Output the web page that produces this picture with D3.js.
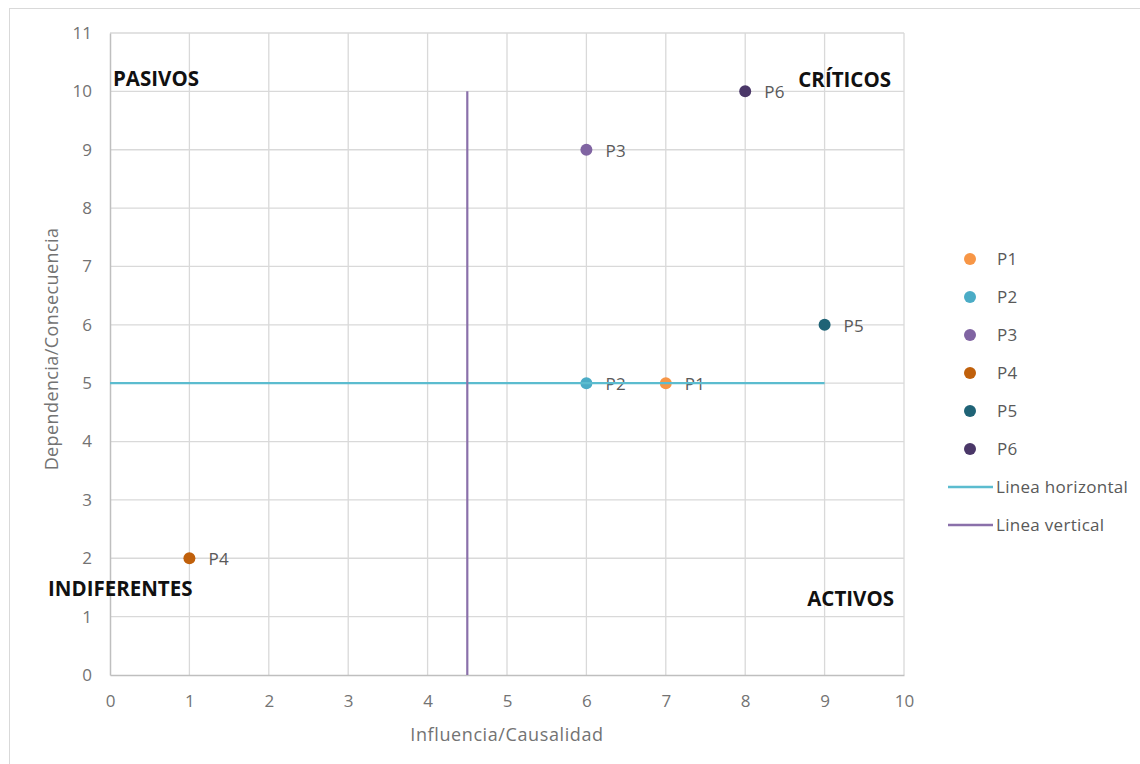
<!DOCTYPE html>
<html><head><meta charset="utf-8">
<script src="https://cdn.jsdelivr.net/npm/d3@7"></script>
<style>body{margin:0;background:#fff;} svg{display:block;font-family:"Open Sans",sans-serif;}</style>
</head><body>
<svg id="c" width="1140" height="764"></svg>
<script>
const names = ["P1","P2","P3","P4","P5","P6"];
const xValues = [7,6,6,1,9,8];
const yValues = [5,5,9,2,6,10];
const colors = ["#f79646","#4bacc6","#8064a2","#c0600b","#1f6376","#4a3768"];
const xTicks = [0,1,2,3,4,5,6,7,8,9,10];
const yTicks = [0,1,2,3,4,5,6,7,8,9,10,11];
const hLineX = [0,9], hLineY = [5,5];
const vLineX = [4.5,4.5], vLineY = [0,10];
const lineNames = ["Linea horizontal","Linea vertical"];
const lineColors = ["#5bbccf","#8a70aa"];
const quadNames = ["PASIVOS","CRÍTICOS","INDIFERENTES","ACTIVOS"];

const FONT = "'Open Sans',sans-serif";
const svg = d3.select("#c");
svg.append("rect").attr("x",9.5).attr("y",8.5).attr("width",1200).attr("height",800)
  .attr("fill","#fff").attr("stroke","#d9d9d9");

const x = d3.scaleLinear().domain([0,10]).range([110,904]);
const y = d3.scaleLinear().domain([0,11]).range([675,33]);

// gridlines
const g = svg.append("g");
g.selectAll("line.v").data(xTicks.slice(1)).join("line")
  .attr("x1",d=>x(d)).attr("x2",d=>x(d)).attr("y1",y(0)).attr("y2",y(11))
  .attr("stroke","#d9d9d9").attr("stroke-width",1.3);
g.selectAll("line.h").data(yTicks.slice(1)).join("line")
  .attr("x1",x(0)).attr("x2",x(10)).attr("y1",d=>y(d)).attr("y2",d=>y(d))
  .attr("stroke","#d9d9d9").attr("stroke-width",1.3);

// axes
const xa = svg.append("g").attr("transform",`translate(0,${y(0)})`)
  .call(d3.axisBottom(x).tickValues(xTicks).tickSize(0).tickPadding(20));
const ya = svg.append("g").attr("transform",`translate(${x(0)},0)`)
  .call(d3.axisLeft(y).tickValues(yTicks).tickSize(0).tickPadding(18));
[xa,ya].forEach(a=>{
  a.select(".domain").attr("stroke","#bfbfbf").attr("stroke-width",1.5);
  a.selectAll("text").attr("fill","#737373").style("font-size","17px").style("font-family",FONT);
});

svg.append("text").attr("x",507).attr("y",741).attr("text-anchor","middle")
  .attr("fill","#737373").style("font-size","18px").style("letter-spacing","0.6px").text("Influencia/Causalidad");
svg.append("text").attr("transform","translate(58,349) rotate(-90)").attr("text-anchor","middle")
  .attr("fill","#737373").style("font-size","18px").style("letter-spacing","0.4px").text("Dependencia/Consecuencia");

// points
const pts = names.map((n,i)=>({n,x:xValues[i],y:yValues[i],c:colors[i]}));
svg.selectAll("circle.pt").data(pts).join("circle")
  .attr("cx",d=>x(d.x)).attr("cy",d=>y(d.y)).attr("r",6).attr("fill",d=>d.c);
svg.selectAll("text.pl").data(pts).join("text")
  .attr("x",d=>x(d.x)+19).attr("y",d=>y(d.y)+7).attr("fill","#595959")
  .style("font-size","17px").style("letter-spacing","0.3px").text(d=>d.n);

// lines
const line = d3.line().x(d=>x(d[0])).y(d=>y(d[1]));
svg.append("path").attr("d",line(hLineX.map((v,i)=>[v,hLineY[i]])))
  .attr("stroke",lineColors[0]).attr("stroke-width",2.2).attr("fill","none");
svg.append("path").attr("d",line(vLineX.map((v,i)=>[v,vLineY[i]])))
  .attr("stroke",lineColors[1]).attr("stroke-width",2.2).attr("fill","none");

// quadrant labels
const quad = [
  {t:quadNames[0],x:x(0)+3,y:y(10)-5,a:"start"},
  {t:quadNames[1],x:x(10)-13,y:y(10)-4,a:"end"},
  {t:quadNames[2],x:x(0)-62,y:y(2)+38,a:"start"},
  {t:quadNames[3],x:x(10)-10,y:y(1)-11,a:"end"}
];
svg.selectAll("text.q").data(quad).join("text")
  .attr("x",d=>d.x).attr("y",d=>d.y).attr("text-anchor",d=>d.a)
  .attr("fill","#111").style("font-size","20.5px").style("font-weight","bold").text(d=>d.t);

// legend
const lg = svg.append("g");
names.forEach((n,i)=>{
  const yy = 259 + i*38;
  lg.append("circle").attr("cx",970).attr("cy",yy).attr("r",6).attr("fill",colors[i]);
  lg.append("text").attr("x",997).attr("y",yy+6).attr("fill","#595959").style("font-size","17px")
    .style("letter-spacing","0.3px").text(n);
});
lineNames.forEach((n,i)=>{
  const yy = 487 + i*38;
  lg.append("line").attr("x1",948).attr("x2",993).attr("y1",yy).attr("y2",yy)
    .attr("stroke",lineColors[i]).attr("stroke-width",2.5);
  lg.append("text").attr("x",996).attr("y",yy+6).attr("fill","#595959").style("font-size","17px")
    .style("letter-spacing","0.3px").text(n);
});
</script>
</body></html>
